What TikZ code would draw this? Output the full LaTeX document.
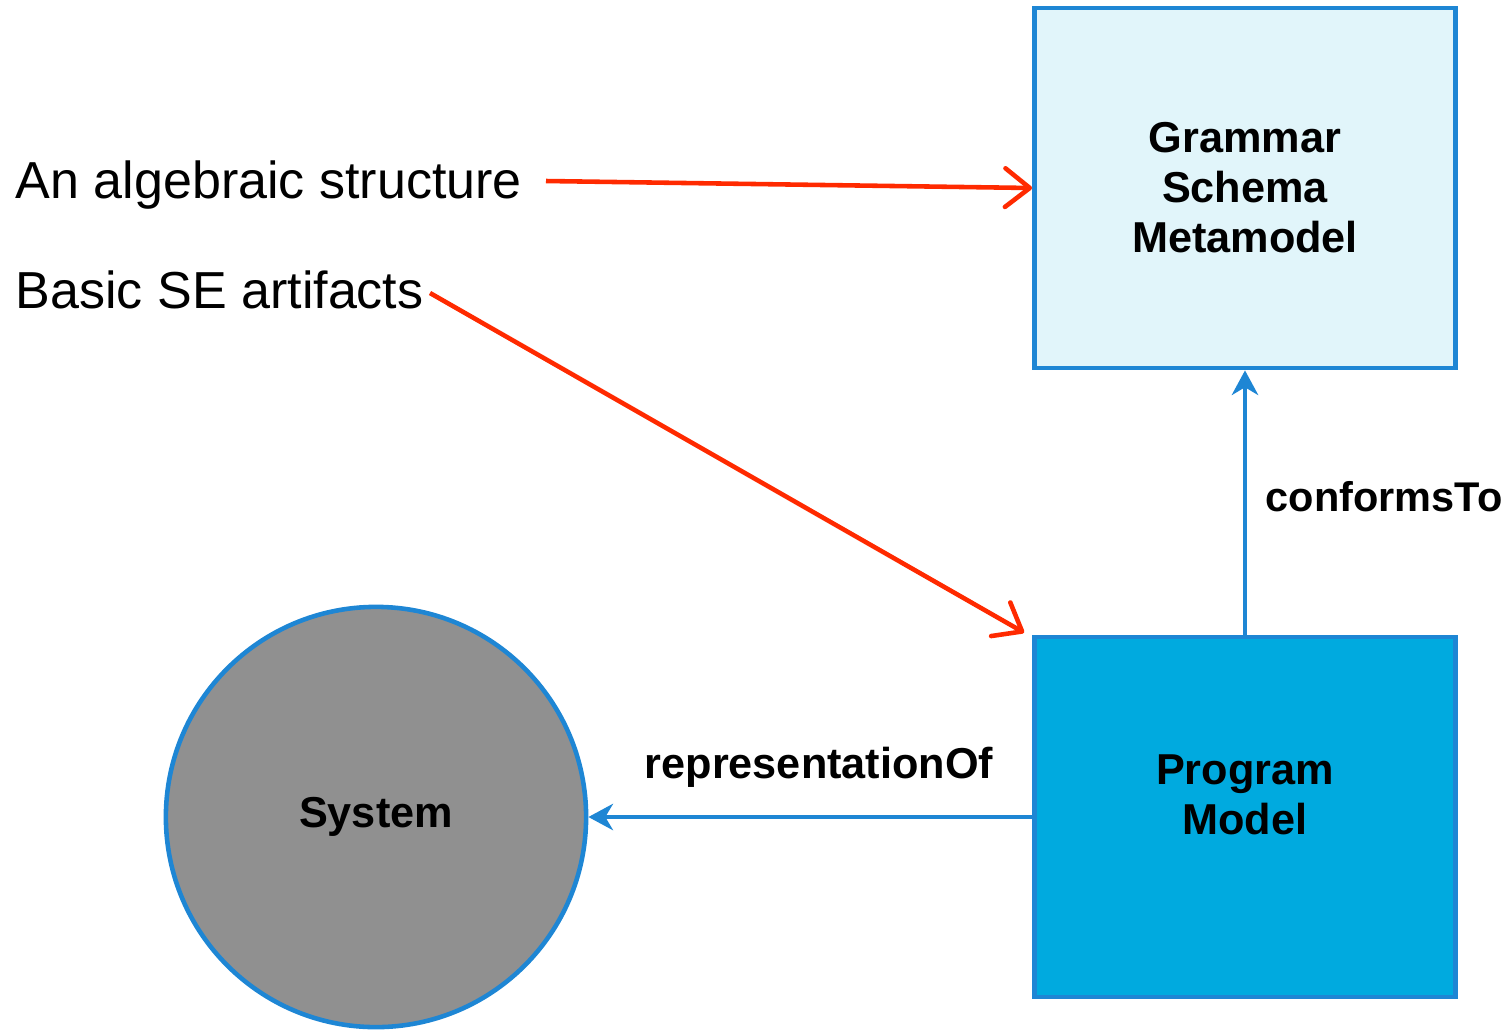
\documentclass[tikz,border=0pt]{standalone}
\usepackage{fontspec}
\setmainfont{Liberation Sans}
\usetikzlibrary{arrows.meta}
\definecolor{edgeblue}{HTML}{1E86D4}
\definecolor{paleblue}{HTML}{E1F5FA}
\definecolor{deepcyan}{HTML}{00AADF}
\definecolor{systemgray}{HTML}{909090}
\definecolor{hotred}{HTML}{FF2A00}
\begin{document}
\begin{tikzpicture}[x=0.01cm, y=-0.01cm,
    box/.style = {draw=edgeblue, line width=1.3pt, minimum width=4.21cm,
                  minimum height=3.6cm, align=center,
                  font=\bfseries\fontsize{12.3}{14.2}\selectfont},
    plain/.style = {anchor=west, inner sep=0pt, font=\fontsize{14.8}{18}\selectfont},
    relname/.style = {font=\bfseries\fontsize{12.3}{16}\selectfont},
    says/.style = {draw=hotred, line width=1.3pt, -{Straight Barb[round, length=7pt, width=11pt]}},
    rel/.style = {draw=edgeblue, line width=1.1pt, -{Stealth[length=7pt, width=7.5pt, inset=2.2pt]}}]
    \useasboundingbox (0,0) rectangle (1511,1029);
    % the two boxes and the system
    \node[box, fill=paleblue] (meta) at (1245,188) {Grammar\\Schema\\Metamodel};
    \node[box, fill=deepcyan] (model) at (1245,817) {Program\\Model\\[-0.06cm]};
    \node[circle, draw=edgeblue, line width=1.3pt, fill=systemgray, minimum size=4.2cm,
          font=\bfseries\fontsize{12.3}{16}\selectfont] (system) at (376,817) {System};
    % plain texts on the left
    \node[plain] (algebra) at (15,185) {An algebraic structure};
    \node[plain] (artifacts) at (15,290) {Basic SE artifacts};
    \coordinate (algebra end) at (546,181);
    \coordinate (artifacts end) at (430,293);
    \draw[says] (algebra end) -- (meta.west);
    \draw[says] (artifacts end) -- ([xshift=-0.08cm, yshift=0.02cm]model.north west);
    % relations
    \draw[rel] (model.north) -- (meta.south);
    \draw[rel] (model.west) -- (system.east);
    \node[relname, anchor=west, inner sep=0pt, font=\bfseries\fontsize{11.8}{16}\selectfont]
        (conforms) at (1265,497) {conformsTo};
    \node[relname] (repr) at (819,767) {representationOf};
\end{tikzpicture}
\end{document}
